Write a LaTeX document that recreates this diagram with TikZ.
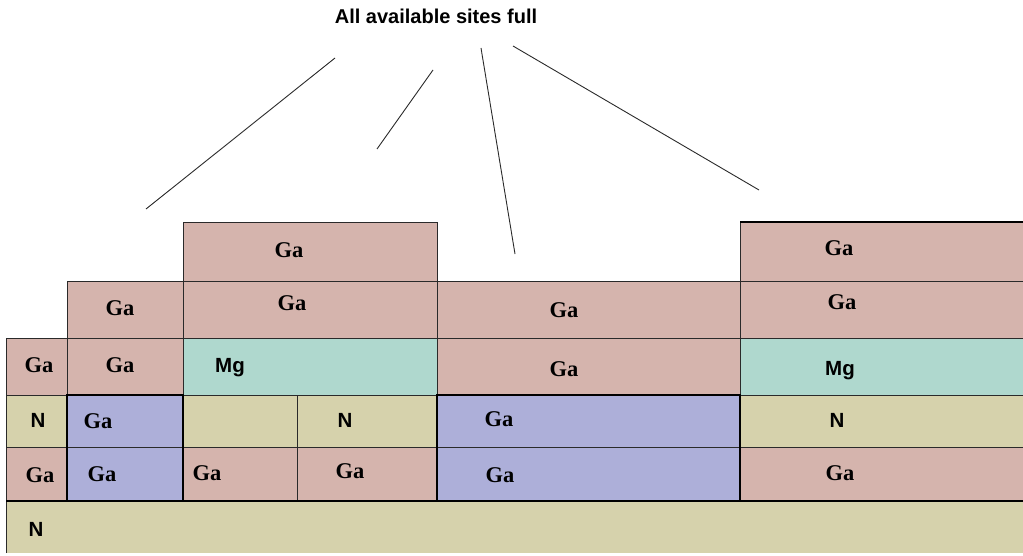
\documentclass[tikz,border=0pt]{standalone}
\usepackage{fontspec}
\setmainfont{Liberation Serif}
\newfontfamily\labsans{Liberation Sans}
\definecolor{gapink}{HTML}{D5B4AD}
\definecolor{mgcyan}{HTML}{AFD8CE}
\definecolor{ntan}{HTML}{D6D2AC}
\definecolor{gablue}{HTML}{ADAFD9}
\definecolor{rule}{HTML}{2A2A2A}
\begin{document}
\begin{tikzpicture}[x=1pt,y=-1pt,
  cell/.style={draw=rule, line width=0.9pt},
  heavy/.style={draw=black, line width=2.8pt},
  pointer/.style={draw=rule, line width=0.9pt},
  galab/.style={anchor=base, inner sep=0pt, font=\fontsize{22.5}{24}\selectfont\bfseries},
  snlab/.style={anchor=base, inner sep=0pt, font=\labsans\fontsize{20.5}{22}\selectfont\bfseries},
  title/.style={anchor=base, inner sep=0pt, font=\labsans\fontsize{20}{22}\selectfont\bfseries}]
\useasboundingbox (0,0) rectangle (1023,556);

% bottom nitrogen layer
\fill[ntan] (6,501) rectangle (1025,553);
\draw[cell] (6,501) -- (6,553);

% row A (top)
\filldraw[cell, fill=gapink] (183,222) rectangle (437,281);
\filldraw[cell, fill=gapink] (740,222) rectangle (1025,281);
% row B
\filldraw[cell, fill=gapink] (67,281) rectangle (183,338);
\filldraw[cell, fill=gapink] (183,281) rectangle (437,338);
\filldraw[cell, fill=gapink] (437,281) rectangle (740,338);
\filldraw[cell, fill=gapink] (740,281) rectangle (1025,338);
% row C
\filldraw[cell, fill=gapink] (6,338) rectangle (67,395);
\filldraw[cell, fill=gapink] (67,338) rectangle (183,395);
\filldraw[cell, fill=mgcyan] (183,338) rectangle (437,395);
\filldraw[cell, fill=gapink] (437,338) rectangle (740,395);
\filldraw[cell, fill=mgcyan] (740,338) rectangle (1025,395);
% row D
\filldraw[cell, fill=ntan] (6,395) rectangle (67,447);
\filldraw[cell, fill=gablue] (67,395) rectangle (183,447);
\filldraw[cell, fill=ntan] (183,395) rectangle (297,447);
\filldraw[cell, fill=ntan] (297,395) rectangle (437,447);
\filldraw[cell, fill=gablue] (437,395) rectangle (740,447);
\filldraw[cell, fill=ntan] (740,395) rectangle (1025,447);
% row E
\filldraw[cell, fill=gapink] (6,447) rectangle (67,501);
\filldraw[cell, fill=gablue] (67,447) rectangle (183,501);
\filldraw[cell, fill=gapink] (183,447) rectangle (297,501);
\filldraw[cell, fill=gapink] (297,447) rectangle (437,501);
\filldraw[cell, fill=gablue] (437,447) rectangle (740,501);
\filldraw[cell, fill=gapink] (740,447) rectangle (1025,501);

% heavy outlines
\draw[heavy] (6,501) -- (1025,501);
\draw[heavy] (67,395) rectangle (183,501);
\draw[heavy] (437,395) rectangle (740,501);
\draw[draw=black, line width=2pt] (740,222) -- (1025,222);

% labels
\node[galab] (a1) at (289,258) {Ga};
\node[galab] (a2) at (839,256) {Ga};
\node[galab] (b1) at (120,315) {Ga};
\node[galab] (b2) at (292,310) {Ga};
\node[galab] (b3) at (564,317) {Ga};
\node[galab] (b4) at (842,309) {Ga};
\node[galab] (c1) at (39,372) {Ga};
\node[galab] (c2) at (120,372) {Ga};
\node[snlab] (c3) at (230,372) {Mg};
\node[galab] (c4) at (564,376) {Ga};
\node[snlab] (c5) at (840,375) {Mg};
\node[snlab] (d1) at (38,427) {N};
\node[galab] (d2) at (98,428) {Ga};
\node[snlab] (d3) at (345,427) {N};
\node[galab] (d4) at (499,426) {Ga};
\node[snlab] (d5) at (837,427) {N};
\node[galab] (e1) at (40,482.5) {Ga};
\node[galab] (e2) at (102,481) {Ga};
\node[galab] (e3) at (207,480) {Ga};
\node[galab] (e4) at (350,478.5) {Ga};
\node[galab] (e5) at (500,482) {Ga};
\node[galab] (e6) at (840,480) {Ga};
\node[snlab] (f1) at (36,536) {N};

% heading and pointer strokes
\node[title] (head) at (436,24) {All available sites full};
\coordinate (p1s) at (335,58);  \coordinate (p1e) at (146,209);
\coordinate (p2s) at (433,70);  \coordinate (p2e) at (377,149);
\coordinate (p3s) at (481,48);  \coordinate (p3e) at (515,254);
\coordinate (p4s) at (513,46);  \coordinate (p4e) at (759,190);
\draw[pointer] (p1s) -- (p1e);
\draw[pointer] (p2s) -- (p2e);
\draw[pointer] (p3s) -- (p3e);
\draw[pointer] (p4s) -- (p4e);
\end{tikzpicture}
\end{document}
